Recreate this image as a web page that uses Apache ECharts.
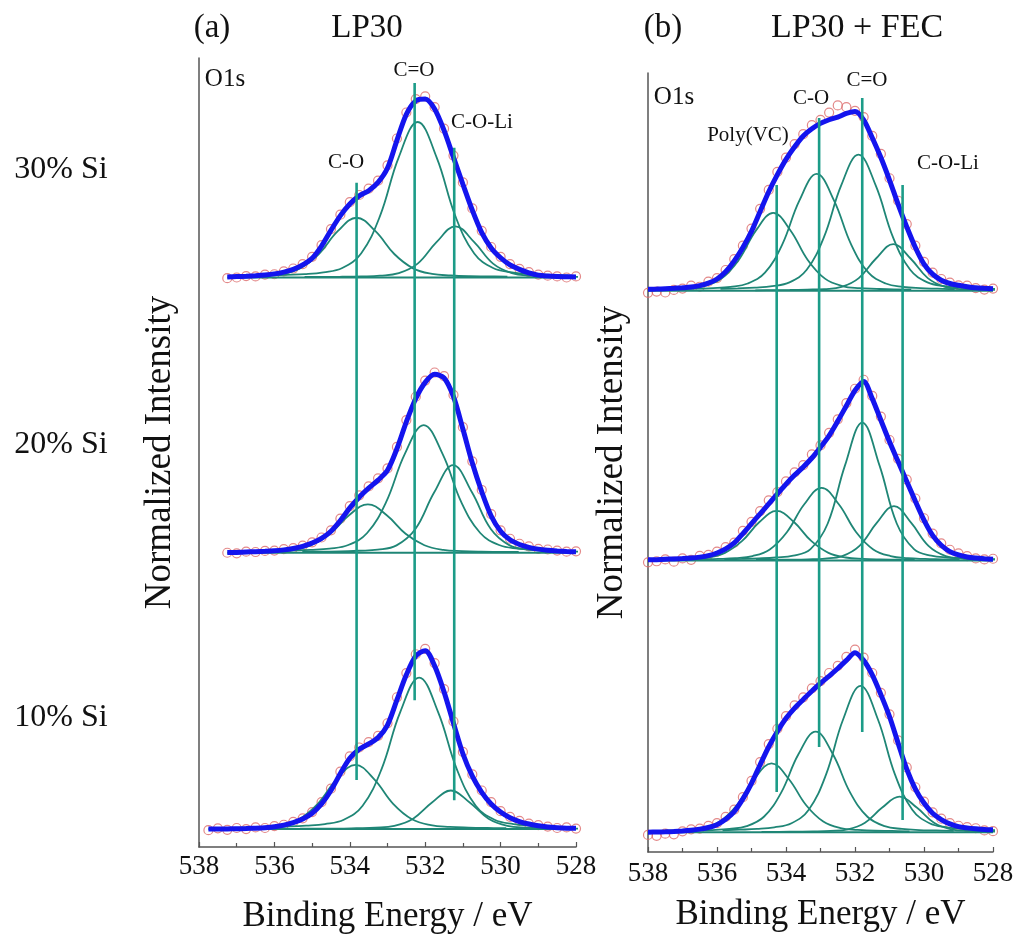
<!DOCTYPE html>
<html><head><meta charset="utf-8">
<script src="https://cdn.jsdelivr.net/npm/echarts@6/dist/echarts.min.js"></script>
<style>html,body{margin:0;padding:0;background:#fff}#c{width:1019px;height:939px}</style>
</head><body><div id="c"></div>
<script>
// ---------------- data ----------------
const xTicks = [538, 536, 534, 532, 530, 528];
const sampleLabels = ['30% Si', '20% Si', '10% Si'];
const panelTitles = [['(a)', 'LP30'], ['(b)', 'LP30 + FEC']];
const peakNamesA = ['C-O', 'C=O', 'C-O-Li'];
const peakNamesB = ['Poly(VC)', 'C-O', 'C=O', 'C-O-Li'];

// binding energies of measured points (eV)
const energyA = [537.25,537,536.75,536.5,536.25,536,535.75,535.5,535.25,535,534.75,534.5,534.25,534,533.75,533.5,533.25,533,532.75,532.5,532.25,532,531.75,531.5,531.25,531,530.75,530.5,530.25,530,529.75,529.5,529.25,529,528.75,528.5,528.25,528];
const energyA10 = [537.75,537.5,537.25,537,536.75,536.5,536.25,536,535.75,535.5,535.25,535,534.75,534.5,534.25,534,533.75,533.5,533.25,533,532.75,532.5,532.25,532,531.75,531.5,531.25,531,530.75,530.5,530.25,530,529.75,529.5,529.25,529,528.75,528.5,528.25,528];
const energyB = [538,537.75,537.5,537.25,537,536.75,536.5,536.25,536,535.75,535.5,535.25,535,534.75,534.5,534.25,534,533.75,533.5,533.25,533,532.75,532.5,532.25,532,531.75,531.5,531.25,531,530.75,530.5,530.25,530,529.75,529.5,529.25,529,528.75,528.5,528.25,528];

// envelope (fit) and measured data, normalized intensity
const fitA30 = [0.003,0.005,0.007,0.01,0.014,0.02,0.03,0.045,0.07,0.107,0.175,0.263,0.345,0.41,0.455,0.484,0.53,0.61,0.765,0.91,0.985,0.995,0.94,0.82,0.67,0.52,0.375,0.25,0.165,0.11,0.07,0.045,0.026,0.013,0.008,0.005,0.004,0.003];
const datA30 = [-0.004,0.0,0.008,0.006,0.016,0.018,0.034,0.05,0.075,0.115,0.18,0.27,0.35,0.42,0.46,0.495,0.54,0.625,0.775,0.92,0.995,1.01,0.95,0.83,0.68,0.53,0.385,0.26,0.17,0.115,0.075,0.048,0.03,0.016,0.01,0.006,0.0,0.006];
const fitA20 = [0.001,0.002,0.004,0.006,0.008,0.011,0.016,0.024,0.036,0.054,0.08,0.12,0.18,0.25,0.31,0.36,0.405,0.46,0.58,0.73,0.86,0.95,0.995,0.975,0.87,0.69,0.5,0.34,0.205,0.12,0.072,0.046,0.03,0.02,0.014,0.01,0.007,0.005];
const datA20 = [0.0,-0.003,0.006,0.004,0.01,0.012,0.02,0.026,0.04,0.058,0.085,0.125,0.19,0.26,0.32,0.37,0.415,0.47,0.59,0.74,0.87,0.96,1.005,0.985,0.88,0.7,0.51,0.35,0.215,0.125,0.078,0.05,0.035,0.022,0.018,0.012,0.006,0.008];
const fitA10 = [0.0,0.0,0.001,0.002,0.003,0.005,0.008,0.013,0.022,0.036,0.056,0.088,0.14,0.215,0.31,0.395,0.445,0.475,0.51,0.58,0.72,0.86,0.965,0.995,0.91,0.765,0.59,0.42,0.295,0.205,0.14,0.095,0.063,0.042,0.028,0.018,0.012,0.008,0.005,0.004];
const datA10 = [-0.006,0.004,-0.004,0.006,0.0,0.009,0.006,0.016,0.024,0.04,0.06,0.095,0.15,0.225,0.32,0.405,0.455,0.485,0.52,0.59,0.735,0.87,0.975,1.005,0.925,0.78,0.6,0.43,0.305,0.215,0.15,0.1,0.068,0.046,0.03,0.022,0.014,0.006,0.009,0.003];
const fitB30 = [0.008,0.009,0.011,0.013,0.016,0.02,0.028,0.042,0.065,0.105,0.165,0.24,0.33,0.44,0.55,0.645,0.73,0.8,0.86,0.9,0.93,0.95,0.965,0.985,0.996,0.95,0.85,0.74,0.615,0.48,0.355,0.24,0.148,0.092,0.058,0.04,0.03,0.022,0.016,0.013,0.011];
const datB30 = [-0.012,-0.005,-0.01,0.004,0.012,0.028,0.022,0.05,0.07,0.115,0.175,0.25,0.345,0.455,0.56,0.66,0.74,0.815,0.87,0.92,0.95,0.99,1.03,1.02,1.0,0.965,0.86,0.76,0.625,0.5,0.37,0.25,0.16,0.1,0.065,0.045,0.03,0.028,0.014,0.006,0.012];
const fitB20 = [0.004,0.005,0.007,0.009,0.011,0.014,0.019,0.027,0.042,0.065,0.098,0.15,0.205,0.26,0.315,0.37,0.425,0.475,0.52,0.57,0.63,0.695,0.775,0.86,0.945,0.995,0.9,0.78,0.66,0.55,0.44,0.33,0.225,0.14,0.085,0.05,0.031,0.02,0.014,0.01,0.007];
const datB20 = [-0.01,-0.004,0.006,-0.006,0.012,0.004,0.026,0.032,0.05,0.075,0.1,0.165,0.215,0.275,0.335,0.38,0.44,0.49,0.53,0.59,0.64,0.71,0.785,0.875,0.955,1.005,0.915,0.8,0.67,0.565,0.45,0.345,0.235,0.15,0.095,0.06,0.04,0.025,0.012,0.006,0.01];
const fitB10 = [0.0,0.001,0.002,0.004,0.007,0.011,0.017,0.026,0.042,0.072,0.115,0.185,0.272,0.375,0.475,0.56,0.633,0.69,0.738,0.785,0.828,0.868,0.91,0.955,0.998,0.955,0.875,0.765,0.643,0.495,0.35,0.24,0.162,0.105,0.07,0.046,0.031,0.024,0.019,0.015,0.013];
const datB10 = [-0.015,-0.02,-0.008,-0.012,0.005,0.016,0.02,0.035,0.05,0.085,0.125,0.195,0.285,0.39,0.49,0.575,0.645,0.705,0.75,0.8,0.84,0.885,0.925,0.975,1.015,0.97,0.885,0.775,0.655,0.51,0.36,0.25,0.17,0.11,0.075,0.05,0.036,0.028,0.022,0.01,0.006];

// fitted components: sampled at centre + compDx (eV)
const compDx = [-4,-3.5,-3,-2.5,-2,-1.5,-1,-0.5,0,0.5,1,1.5,2,2.5,3,3.5,4];
const centersA30 = [533.82, 532.20, 531.20];
const compA30 = [
  [0.004,0.006,0.007,0.011,0.020,0.051,0.131,0.258,0.333,0.258,0.131,0.051,0.020,0.011,0.007,0.006,0.004],
  [0.011,0.015,0.019,0.029,0.053,0.134,0.342,0.671,0.867,0.671,0.342,0.134,0.053,0.029,0.019,0.015,0.011],
  [0.003,0.003,0.004,0.006,0.010,0.024,0.077,0.197,0.285,0.197,0.077,0.024,0.010,0.006,0.004,0.003,0.003]];
const centersA20 = [533.52, 532.04, 531.26];
const compA20 = [
  [0.004,0.005,0.006,0.009,0.016,0.042,0.106,0.209,0.270,0.209,0.106,0.042,0.016,0.009,0.006,0.005,0.004],
  [0.009,0.012,0.016,0.023,0.043,0.110,0.281,0.551,0.712,0.551,0.281,0.110,0.043,0.023,0.016,0.012,0.009],
  [0.004,0.006,0.007,0.011,0.017,0.041,0.132,0.337,0.489,0.337,0.132,0.041,0.017,0.011,0.007,0.006,0.004]];
const centersA10 = [533.85, 532.16, 531.32];
const compA10 = [
  [0.005,0.006,0.008,0.012,0.022,0.055,0.141,0.277,0.358,0.277,0.141,0.055,0.022,0.012,0.008,0.006,0.005],
  [0.011,0.014,0.019,0.028,0.052,0.130,0.333,0.654,0.845,0.654,0.333,0.130,0.052,0.028,0.019,0.014,0.011],
  [0.002,0.003,0.003,0.005,0.008,0.018,0.058,0.148,0.215,0.148,0.058,0.018,0.008,0.005,0.003,0.003,0.002]];
const centersB30 = [534.37, 533.11, 531.90, 530.89];
const compB30 = [
  [0.006,0.007,0.010,0.014,0.026,0.067,0.171,0.335,0.433,0.335,0.171,0.067,0.026,0.014,0.010,0.007,0.006],
  [0.008,0.011,0.014,0.021,0.040,0.100,0.256,0.502,0.649,0.502,0.256,0.100,0.040,0.021,0.014,0.011,0.008],
  [0.010,0.013,0.017,0.025,0.046,0.116,0.298,0.585,0.756,0.585,0.298,0.116,0.046,0.025,0.017,0.013,0.010],
  [0.002,0.003,0.004,0.006,0.009,0.021,0.070,0.179,0.259,0.179,0.070,0.021,0.009,0.006,0.004,0.003,0.002]];
const centersB20 = [534.27, 532.97, 531.79, 530.87];
const compB20 = [
  [0.004,0.005,0.006,0.009,0.017,0.043,0.109,0.214,0.276,0.214,0.109,0.043,0.017,0.009,0.006,0.005,0.004],
  [0.005,0.007,0.009,0.013,0.025,0.062,0.159,0.313,0.404,0.313,0.159,0.062,0.025,0.013,0.009,0.007,0.005],
  [0.007,0.009,0.012,0.017,0.027,0.064,0.206,0.529,0.767,0.529,0.206,0.064,0.027,0.017,0.012,0.009,0.007],
  [0.003,0.004,0.005,0.007,0.011,0.025,0.082,0.209,0.303,0.209,0.082,0.025,0.011,0.007,0.005,0.004,0.003]];
const centersB10 = [534.42, 533.14, 531.84, 530.71];
const compB10 = [
  [0.005,0.007,0.008,0.013,0.023,0.059,0.151,0.296,0.383,0.296,0.151,0.059,0.023,0.013,0.008,0.007,0.005],
  [0.007,0.010,0.012,0.018,0.034,0.086,0.220,0.433,0.559,0.433,0.220,0.086,0.034,0.018,0.012,0.010,0.007],
  [0.011,0.014,0.018,0.027,0.050,0.125,0.320,0.629,0.813,0.629,0.320,0.125,0.050,0.027,0.018,0.014,0.011],
  [0.002,0.002,0.003,0.004,0.007,0.016,0.053,0.137,0.198,0.137,0.053,0.016,0.007,0.004,0.003,0.002,0.002]];

// vertical peak-position markers: energy, y from, y to (axis units)
const markA = [533.82, 532.28, 531.23];
const markAY = [[0.273, 3.605], [0.718, 4.161], [0.161, 3.80]];
const markB = [534.27, 533.04, 531.79, 530.62];
const markBY = [[0.224, 3.598], [0.474, 3.97], [0.557, 4.081], [0.068, 3.598]];

// vertical stacking offsets of the three spectra (30%, 20%, 10%)
const offsetA = [3.076, 1.541, 0.0];
const offsetB = [3.01, 1.51, 0.0];

// ---------------- chart ----------------
const SERIF = '"Liberation Serif","Times New Roman",serif';
const TEAL = '#1f8676';
const TEAL_V = '#1c9c88';
const BLUE = '#1414ee';
const RED = '#dc6c6c';
const series = [];

function spectrum(ax, energy, fit, dat, centers, comps, off) {
  const eStart = energy[0], eEnd = energy[energy.length - 1];
  series.push({type: 'scatter', xAxisIndex: ax, yAxisIndex: ax, silent: true, z: 1,
    data: energy.map((e, i) => [e, dat[i] + off]), symbol: 'circle', symbolSize: 9,
    itemStyle: {color: 'rgba(0,0,0,0)', borderColor: RED, borderWidth: 1.2}});
  comps.forEach((vals, j) => {
    const pts = compDx.map((d, k) => [centers[j] + d, vals[k] + off])
      .filter(p => p[0] <= eStart + 1e-9 && p[0] >= eEnd - 0.5);
    series.push({type: 'line', xAxisIndex: ax, yAxisIndex: ax, silent: true, z: 2,
      data: pts, smooth: 0.4, symbol: 'none', lineStyle: {color: TEAL, width: 1.8}});
  });
  series.push({type: 'line', xAxisIndex: ax, yAxisIndex: ax, silent: true, z: 2,
    data: [[eStart, off], [eEnd, off]], symbol: 'none',
    lineStyle: {color: TEAL, width: 2}});
  series.push({type: 'line', xAxisIndex: ax, yAxisIndex: ax, silent: true, z: 3,
    data: energy.map((e, i) => [e, fit[i] + off]), smooth: 0.3, symbol: 'none',
    lineStyle: {color: BLUE, width: 5}});
}
spectrum(0, energyA, fitA30, datA30, centersA30, compA30, offsetA[0]);
spectrum(0, energyA, fitA20, datA20, centersA20, compA20, offsetA[1]);
spectrum(0, energyA10, fitA10, datA10, centersA10, compA10, offsetA[2]);
spectrum(1, energyB, fitB30, datB30, centersB30, compB30, offsetB[0]);
spectrum(1, energyB, fitB20, datB20, centersB20, compB20, offsetB[1]);
spectrum(1, energyB, fitB10, datB10, centersB10, compB10, offsetB[2]);

markA.forEach((e, i) => series.push({type: 'line', xAxisIndex: 0, yAxisIndex: 0, silent: true, z: 4,
  data: [[e, markAY[i][0]], [e, markAY[i][1]]], symbol: 'none', lineStyle: {color: TEAL_V, width: 2.6}}));
markB.forEach((e, i) => series.push({type: 'line', xAxisIndex: 1, yAxisIndex: 1, silent: true, z: 4,
  data: [[e, markBY[i][0]], [e, markBY[i][1]]], symbol: 'none', lineStyle: {color: TEAL_V, width: 2.6}}));

function xAxis(grid, gap, margin) {
  return {type: 'value', gridIndex: grid, min: 528, max: 538, interval: 2, inverse: true,
    name: 'Binding Energy / eV', nameLocation: 'middle', nameGap: gap,
    nameTextStyle: {fontFamily: SERIF, fontSize: 35, color: '#111'},
    axisLine: {show: true, onZero: false, lineStyle: {color: '#555', width: 1.5}},
    axisTick: {show: true, inside: true, length: 5, lineStyle: {color: '#555', width: 1.2}},
    minorTick: {show: true, splitNumber: 2, length: 4, lineStyle: {color: '#555', width: 1.2}},
    axisLabel: {fontFamily: SERIF, fontSize: 27, color: '#111', margin: margin,
      formatter: v => xTicks.indexOf(v) >= 0 ? String(v) : ''},
    splitLine: {show: false}};
}
function yAxis(grid, min, max, gap) {
  return {type: 'value', gridIndex: grid, min: min, max: max,
    name: 'Normalized Intensity', nameLocation: 'middle', nameRotate: 90, nameGap: gap,
    nameTextStyle: {fontFamily: SERIF, fontSize: 37, color: '#111'},
    axisLine: {show: true, onZero: false, lineStyle: {color: '#555', width: 1.5}},
    axisTick: {show: false}, axisLabel: {show: false}, splitLine: {show: false}};
}

function txt(x, y, s, size) {
  return {type: 'text', x: x, y: y, silent: true,
    style: {text: s, font: size + 'px ' + SERIF, fill: '#111', align: 'center', verticalAlign: 'middle'}};
}
const graphic = [
  txt(212, 28, panelTitles[0][0], 33), txt(367, 28, panelTitles[0][1], 33),
  txt(663, 28, panelTitles[1][0], 33), txt(857, 28, panelTitles[1][1], 34),
  txt(61, 170, sampleLabels[0], 32), txt(61, 445, sampleLabels[1], 32), txt(61, 718, sampleLabels[2], 32),
  txt(225, 79, 'O1s', 25), txt(674, 97, 'O1s', 25),
  txt(346, 162, peakNamesA[0], 21), txt(414, 70, peakNamesA[1], 21), txt(482, 122, peakNamesA[2], 21),
  txt(748, 135, peakNamesB[0], 21), txt(811, 98, peakNamesB[1], 21), txt(867, 80, peakNamesB[2], 21), txt(948, 163, peakNamesB[3], 21)
];

const chart = echarts.init(document.getElementById('c'), null, {renderer: 'canvas'});
chart.setOption({
  animation: false,
  backgroundColor: '#fff',
  grid: [
    {left: 199, top: 58, width: 377, height: 791},
    {left: 648, top: 73, width: 345, height: 779}
  ],
  xAxis: [xAxis(0, 52, 6), xAxis(1, 45, 8)],
  yAxis: [yAxis(0, -0.1, 4.3, 20), yAxis(1, -0.11, 4.22, 17)],
  graphic: graphic,
  series: series
});
</script></body></html>
